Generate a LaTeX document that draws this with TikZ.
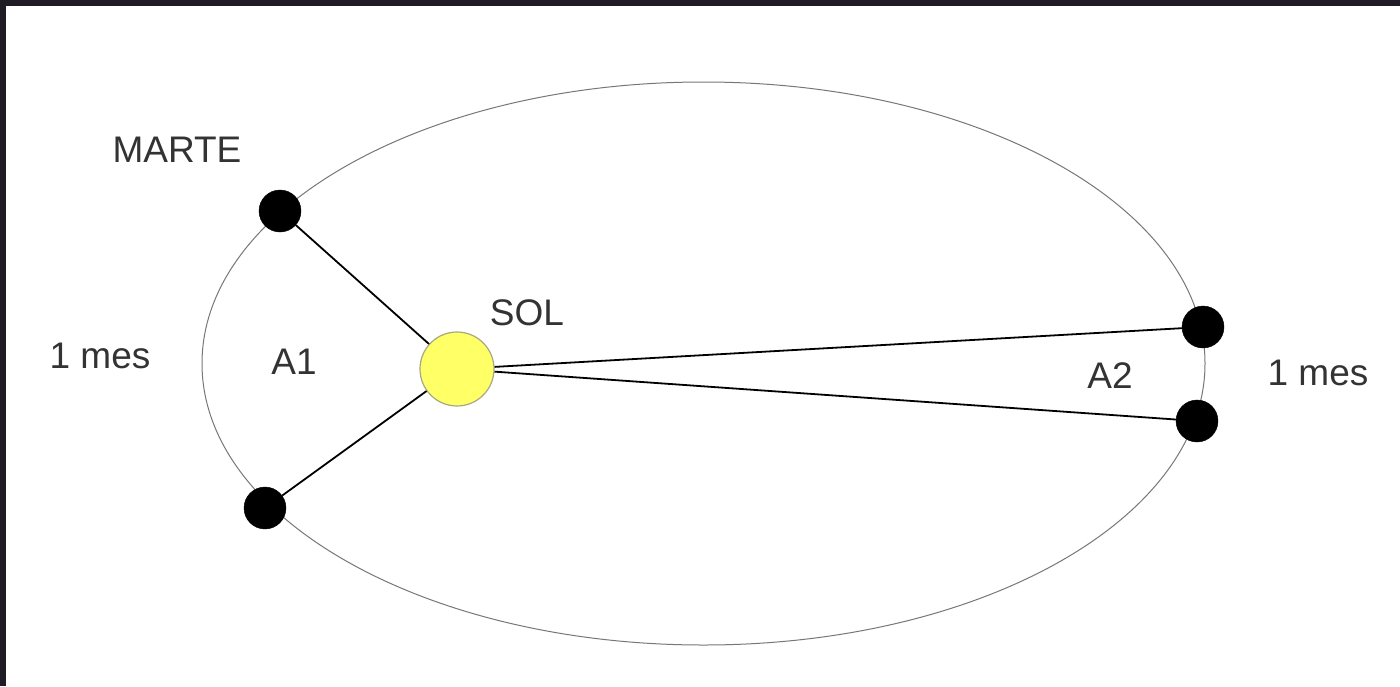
\documentclass[tikz,border=0pt]{standalone}
\usepackage{fontspec}
\setmainfont{Liberation Sans}
\definecolor{frame}{HTML}{201C26}
\definecolor{txt}{HTML}{333333}
\definecolor{sun}{HTML}{FFFF66}
\definecolor{sunedge}{HTML}{A8A880}
\definecolor{orbit}{HTML}{777777}
\begin{document}
\begin{tikzpicture}[x=1pt,y=-1pt,
  planet/.style={circle,fill=black,draw=black,minimum size=42pt,inner sep=0pt},
  sunball/.style={circle,fill=sun,draw=sunedge,line width=1.2pt,minimum size=74pt,inner sep=0pt},
  lbl/.style={text=txt,font=\fontsize{37}{42}\selectfont,inner sep=0pt},
  ray/.style={draw=black,line width=1.8pt}]
\useasboundingbox (0,0) rectangle (1400,686);
\fill[frame] (0,0) rectangle (1400,686);
\fill[white] (6,6) rectangle (1400,686);
\draw[orbit,line width=1pt] (703.5,363.5) ellipse [x radius=501.5, y radius=281.5];
\node[sunball] (sol) at (457,369) {};
\node[planet] (m1) at (280,211) {};
\node[planet] (m2) at (265,508) {};
\node[planet] (m3) at (1203,327) {};
\node[planet] (m4) at (1197,421) {};
\draw[ray] (sol) -- (m1);
\draw[ray] (sol) -- (m2);
\draw[ray] (sol) -- (m3);
\draw[ray] (sol) -- (m4);
\node[lbl] (marte) at (177,150) {MARTE};
\node[lbl] (soltxt) at (527,313) {SOL};
\node[lbl] (mes1) at (100,356) {1 mes};
\node[lbl] (a1) at (294,362) {A1};
\node[lbl] (a2) at (1110,376) {A2};
\node[lbl] (mes2) at (1318,373) {1 mes};
\end{tikzpicture}
\end{document}
